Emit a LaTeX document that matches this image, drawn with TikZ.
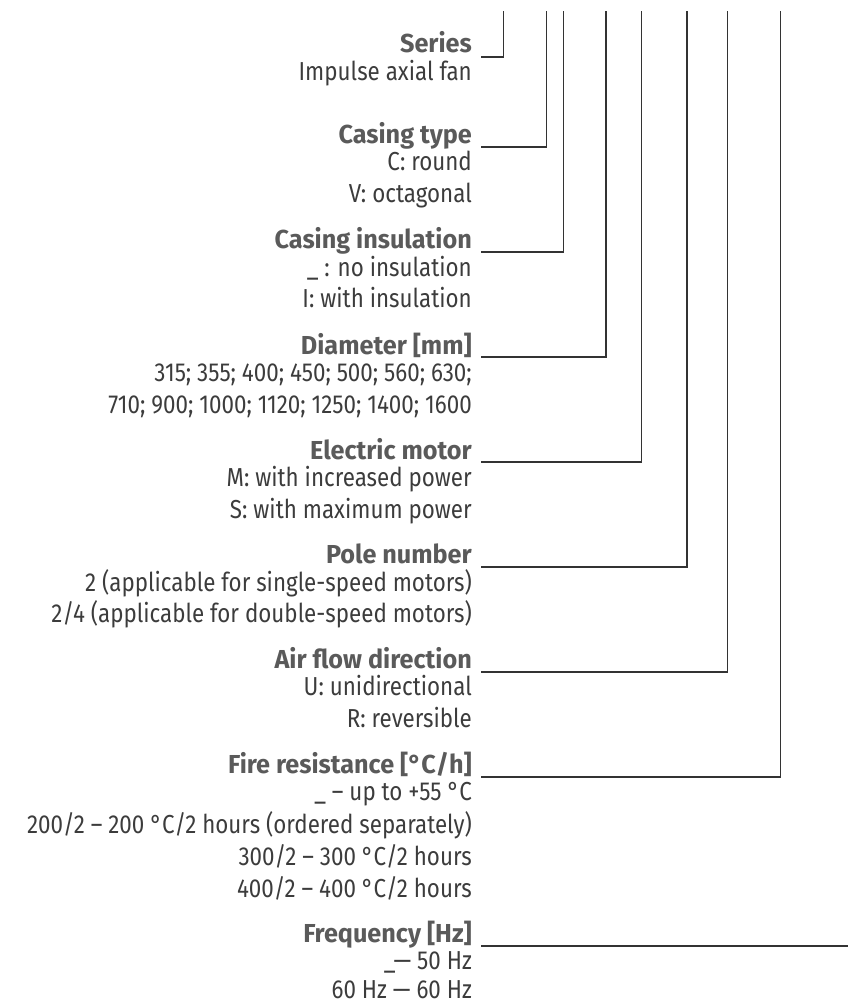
\documentclass[tikz,border=0pt]{standalone}
\usepackage{fontspec}
\newfontfamily\bodyfont{Fira Sans}[FakeStretch=0.86]
\newfontfamily\headfont{Fira Sans}[FakeStretch=0.97]
\definecolor{headgray}{HTML}{5A5A5A}
\definecolor{bodygray}{HTML}{3C3C3C}
\definecolor{linegray}{HTML}{333333}
\tikzset{
  head/.style={anchor=base east, inner sep=0pt, text=headgray, font=\headfont\bfseries\fontsize{26}{31.5}\selectfont},
  body/.style={anchor=base east, inner sep=0pt, text=bodygray, font=\bodyfont\fontsize{26}{31.5}\selectfont},
  leader/.style={draw=linegray, line width=1.2pt},
}
\begin{document}
\begin{tikzpicture}[x=1pt,y=-1pt]
\useasboundingbox (0,0) rectangle (848,1003);
% top coordinates of the leaders
\coordinate (t1) at (503.3,11);
\coordinate (t2) at (546.3,11);
\coordinate (t3) at (563.7,11);
\coordinate (t4) at (606,11);
\coordinate (t5) at (641.7,11);
\coordinate (t6) at (687,11);
\coordinate (t7) at (727.3,11);
\coordinate (t8) at (780.3,11);
\coordinate (t9) at (848,946);
% group 1
\node[head] (h1) at (472,53) {Series};
\node[body] (b1a) at (472,81) {Impulse axial fan};
% group 2
\node[head] (h2) at (472,144) {Casing type};
\node[body] (b2a) at (472,171) {C: round};
\node[body] (b2b) at (472,203) {V: octagonal};
% group 3
\node[head] (h3) at (472,248) {Casing insulation};
\node[body] (b3a) at (472,276) {\_ : no insulation};
\node[body] (b3b) at (472,307) {I: with insulation};
% group 4
\node[head] (h4) at (472,354) {Diameter [mm]};
\node[body] (b4a) at (472,381) {315; 355; 400; 450; 500; 560; 630;};
\node[body] (b4b) at (472,413) {710; 900; 1000; 1120; 1250; 1400; 1600};
% group 5
\node[head] (h5) at (472,459) {Electric motor};
\node[body] (b5a) at (472,486) {M: with increased power};
\node[body] (b5b) at (472,518) {S: with maximum power};
% group 6
\node[head] (h6) at (472,563) {Pole number};
\node[body] (b6a) at (472,591) {2 (applicable for single-speed motors)};
\node[body] (b6b) at (472,622) {2/4 (applicable for double-speed motors)};
% group 7
\node[head] (h7) at (472,668) {Air flow direction};
\node[body] (b7a) at (472,695) {U: unidirectional};
\node[body] (b7b) at (472,727) {R: reversible};
% group 8
\node[head] (h8) at (472,773) {Fire resistance [°C/h]};
\node[body] (b8a) at (472,800) {\_ – up to +55 °C};
\node[body] (b8b) at (472,833) {200/2 – 200 °C/2 hours (ordered separately)};
\node[body] (b8c) at (472,865) {300/2 – 300 °C/2 hours};
\node[body] (b8d) at (472,897) {400/2 – 400 °C/2 hours};
% group 9
\node[head] (h9) at (472,942) {Frequency [Hz]};
\node[body] (b9a) at (472,969) {\_— 50 Hz};
\node[body] (b9b) at (472,998) {60 Hz — 60 Hz};
% leaders
\draw[leader] ([shift={(9,4)}]h1.base east) -| (t1);
\draw[leader] ([shift={(9,3)}]h2.base east) -| (t2);
\draw[leader] ([shift={(9,4)}]h3.base east) -| (t3);
\draw[leader] ([shift={(9,3)}]h4.base east) -| (t4);
\draw[leader] ([shift={(9,3)}]h5.base east) -| (t5);
\draw[leader] ([shift={(9,4)}]h6.base east) -| (t6);
\draw[leader] ([shift={(9,4)}]h7.base east) -| (t7);
\draw[leader] ([shift={(9,4)}]h8.base east) -| (t8);
\draw[leader] ([shift={(9,4)}]h9.base east) -- (t9);
\end{tikzpicture}
\end{document}
